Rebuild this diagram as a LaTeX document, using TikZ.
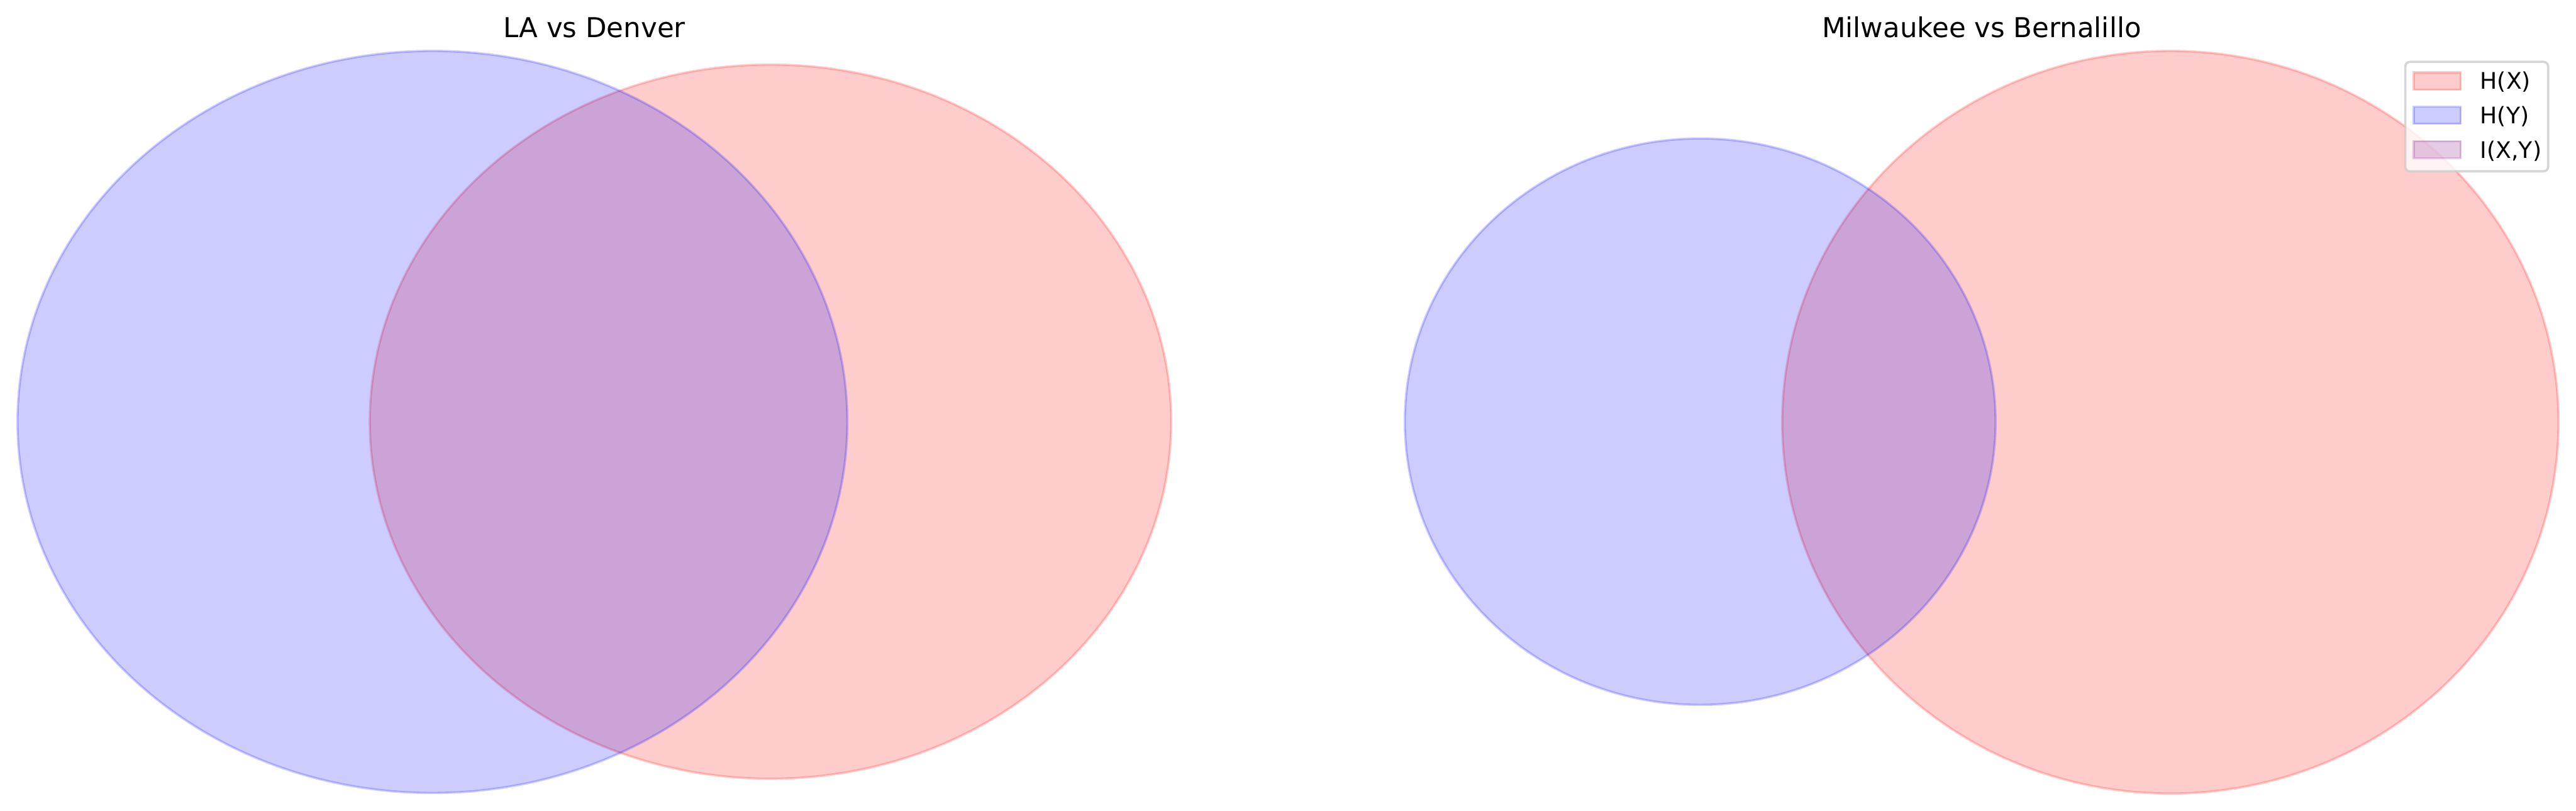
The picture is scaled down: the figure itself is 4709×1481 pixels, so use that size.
\documentclass[tikz,border=0pt]{standalone}
\usepackage{fontspec}
\setmainfont{DejaVu Sans}
\definecolor{mplpurple}{RGB}{128,0,128}
\begin{document}
\begin{tikzpicture}[x=0.24pt,y=0.24pt,
  hx/.style={fill=red, draw=red, fill opacity=0.2, draw opacity=0.2, line width=1pt},
  hy/.style={fill=blue, draw=blue, fill opacity=0.2, draw opacity=0.2, line width=1pt},
  ixy/.style={fill=mplpurple, draw=mplpurple, fill opacity=0.2, draw opacity=0.2, line width=1pt},
  ttl/.style={anchor=base, inner sep=0pt, font=\fontsize{12}{14}\selectfont},
  lgt/.style={anchor=base west, inner sep=0pt, font=\fontsize{10}{12}\selectfont},
  lgframe/.style={draw=black!20, draw opacity=0.8, fill=white, fill opacity=0.8, line width=1pt, rounded corners=2pt}]
\fill[white] (0,0) rectangle (4709,1481);
\useasboundingbox (0,0) rectangle (4709,1481);
% left panel
\path[hx] (1408.5,710.5) ellipse [x radius=175.8pt, y radius=156.6pt];
\path[hy] (790.5,710) ellipse [x radius=182.04pt, y radius=162.72pt];
\node[ttl] (t1) at (1086.5,1413) {LA vs Denver};
% right panel
\path[hx] (3967.5,709.5) ellipse [x radius=170.28pt, y radius=162.84pt];
\path[hy] (3108,710.5) ellipse [x radius=129.6pt, y radius=124.2pt];
\node[ttl] (t2) at (3622.5,1413) {Milwaukee vs Bernalillo};
% legend
\path[lgframe] (4397,1368) rectangle (4658,1168);
\path[hx] (4412,1349) rectangle (4498,1317);
\path[hy] (4412,1286) rectangle (4498,1255);
\path[ixy] (4412,1223) rectangle (4498,1192);
\node[lgt] (l1) at (4533,1318) {H(X)};
\node[lgt] (l2) at (4533,1255) {H(Y)};
\node[lgt] (l3) at (4533,1192) {I(X,Y)};
\end{tikzpicture}
\end{document}
